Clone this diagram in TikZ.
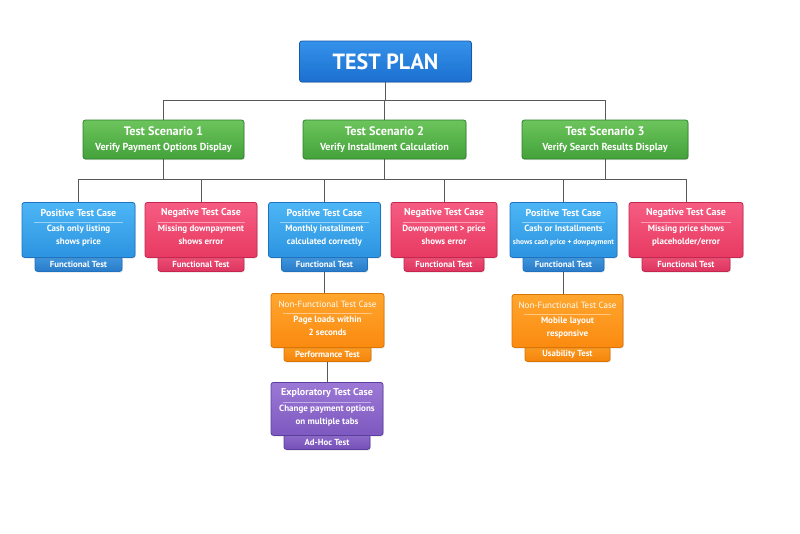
\documentclass[tikz,border=0pt]{standalone}
\usepackage{fontspec}
\setmainfont{PT Sans}
\usetikzlibrary{shadows,calc}
\definecolor{conncol}{HTML}{585858}
\definecolor{tpTop}{HTML}{3592EA}\definecolor{tpBot}{HTML}{1B6FD0}\definecolor{tpLine}{HTML}{1558A8}
\definecolor{grTop}{HTML}{6CC45C}\definecolor{grBot}{HTML}{44A23A}\definecolor{grLine}{HTML}{2E7F2A}
\definecolor{blTop}{HTML}{4DB6F6}\definecolor{blBot}{HTML}{2C94E0}\definecolor{blLine}{HTML}{1E72C0}
\definecolor{blTabT}{HTML}{3E97DE}\definecolor{blTabB}{HTML}{2A7BC8}
\definecolor{pkTop}{HTML}{F65C82}\definecolor{pkBot}{HTML}{E83A62}\definecolor{pkLine}{HTML}{C42650}
\definecolor{pkTabT}{HTML}{EE4E74}\definecolor{pkTabB}{HTML}{DC3560}
\definecolor{orTop}{HTML}{FFA62E}\definecolor{orBot}{HTML}{FB8A10}\definecolor{orLine}{HTML}{DC7400}
\definecolor{orTabT}{HTML}{FD9A20}\definecolor{orTabB}{HTML}{F4850C}
\definecolor{puTop}{HTML}{9C78D6}\definecolor{puBot}{HTML}{7D59C0}\definecolor{puLine}{HTML}{5C3E9E}
\definecolor{puTabT}{HTML}{8E6ACC}\definecolor{puTabB}{HTML}{7551B8}
\tikzset{
  conn/.style={draw=conncol,line width=1pt},
  shad/.style={drop shadow={opacity=0.22,shadow xshift=0.8pt,shadow yshift=-1.2pt}},
  boxbase/.style={rectangle,rounded corners=2.5pt,line width=0.8pt,inner sep=0pt,shad},
  blue/.style={top color=blTop,bottom color=blBot,draw=blLine},
  bluetab/.style={top color=blTabT,bottom color=blTabB,draw=blLine},
  pink/.style={top color=pkTop,bottom color=pkBot,draw=pkLine},
  pinktab/.style={top color=pkTabT,bottom color=pkTabB,draw=pkLine},
  orange/.style={top color=orTop,bottom color=orBot,draw=orLine},
  orangetab/.style={top color=orTabT,bottom color=orTabB,draw=orLine},
  purple/.style={top color=puTop,bottom color=puBot,draw=puLine},
  purpletab/.style={top color=puTabT,bottom color=puTabB,draw=puLine},
  green/.style={top color=grTop,bottom color=grBot,draw=grLine},
  hdtxt/.style={text=white,font=\bfseries\fontsize{10}{12}\selectfont,inner sep=0pt},
  txt/.style={text=white,font=\bfseries\fontsize{9}{13}\selectfont,align=center,inner sep=0pt},
  tabtxt/.style={text=white,font=\bfseries\fontsize{8.8}{10}\selectfont,inner sep=0pt},
}
% #1 name #2 cx #3 top #4 w #5 h #6 colour #7 title #8 body #9 tab
\newcommand\casebox[9]{%
  \node[boxbase,#6tab,minimum width=#4-26,minimum height=15,anchor=north] (#1t) at (#2,#3+#5-1) {};
  \node[tabtxt,anchor=center] (#1tl) at ($(#1t.center)+(0,0.5)$) {#9};
  \node[boxbase,#6,minimum width=#4,minimum height=#5,anchor=north] (#1) at (#2,#3) {};
  \node[hdtxt,anchor=center] (#1h) at ($(#1.north)+(0,11)$) {#7};
  \draw[white,opacity=0.45,line width=0.6pt] ($(#1.north west)+(12,20.5)$) -- ($(#1.north east)+(-12,20.5)$);
  \node[txt,anchor=north] (#1b) at ($(#1.north)+(0,23)$) {#8};
}
\begin{document}
\begin{tikzpicture}[x=1pt,y=-1pt]
\useasboundingbox (0,0) rectangle (800,533);
% root
\node[boxbase,top color=tpTop,bottom color=tpBot,draw=tpLine,minimum width=172,minimum height=41,
      text=white,font=\bfseries\fontsize{22}{24}\selectfont] (tp) at (385.5,61.5) {TEST PLAN};
% scenarios
\node[boxbase,green,minimum width=161,minimum height=39,text=white,align=center,
      font=\bfseries\fontsize{10.2}{15.5}\selectfont] (s1) at (163.5,139.5)
      {{\fontsize{12.3}{14}\selectfont Test Scenario 1}\\Verify Payment Options Display};
\node[boxbase,green,minimum width=163,minimum height=39,text=white,align=center,
      font=\bfseries\fontsize{10.2}{15.5}\selectfont] (s2) at (384.5,139.5)
      {{\fontsize{12.3}{14}\selectfont Test Scenario 2}\\Verify Installment Calculation};
\node[boxbase,green,minimum width=166,minimum height=39,text=white,align=center,
      font=\bfseries\fontsize{10.2}{15.5}\selectfont] (s3) at (605,139.5)
      {{\fontsize{12.3}{14}\selectfont Test Scenario 3}\\Verify Search Results Display};
% cases
\casebox{c1}{78.5}{202}{113}{55}{blue}{Positive Test Case}{Cash only listing\\shows price}{Functional Test}
\casebox{c2}{201}{202}{112}{55}{pink}{Negative Test Case}{Missing downpayment\\shows error}{Functional Test}
\casebox{c3}{324.5}{202}{112}{55}{blue}{Positive Test Case}{Monthly installment\\calculated correctly}{Functional Test}
\casebox{c4}{444}{202}{106}{55}{pink}{Negative Test Case}{Downpayment > price\\shows error}{Functional Test}
\casebox{c5}{563.5}{202}{107}{55}{blue}{Positive Test Case}{Cash or Installments\\{\fontsize{7.4}{9}\selectfont shows cash price + dowpayment}}{Functional Test}
\casebox{c6}{686}{202}{114}{55}{pink}{Negative Test Case}{Missing price shows\\placeholder/error}{Functional Test}
\casebox{nf1}{327.5}{293}{113}{54}{orange}{{\mdseries\fontsize{9}{10}\selectfont Non-Functional Test Case}}{Page loads within\\2 seconds}{Performance Test}
\casebox{ex}{327}{382}{112}{53}{purple}{Exploratory Test Case}{Change payment options\\on multiple tabs}{Ad-Hoc Test}
\casebox{nf2}{567.5}{294}{111}{53}{orange}{{\mdseries\fontsize{9}{10}\selectfont Non-Functional Test Case}}{Mobile layout\\responsive}{Usability Test}
% connectors
\coordinate (b1) at (0,100);
\coordinate (b2) at (0,179);
\draw[conn] (tp.south) -- (tp.south |- b1);
\draw[conn] (s1.north) -- (s1.north |- b1) -- (s3.north |- b1) -- (s3.north);
\draw[conn] (s2.north) -- (s2.north |- b1);
\draw[conn] (c1.north) -- (c1.north |- b2) -- (c6.north |- b2) -- (c6.north);
\foreach \s in {s1,s2,s3} \draw[conn] (\s.south) -- (\s.south |- b2);
\foreach \c in {c2,c3,c4,c5} \draw[conn] (\c.north) -- (\c.north |- b2);
\draw[conn] (c3t.south) -- (c3t.south |- nf1.north);
\draw[conn] (nf1t.south) -- (nf1t.south |- ex.north);
\draw[conn] (c5t.south) -- (c5t.south |- nf2.north);
\end{tikzpicture}
\end{document}
